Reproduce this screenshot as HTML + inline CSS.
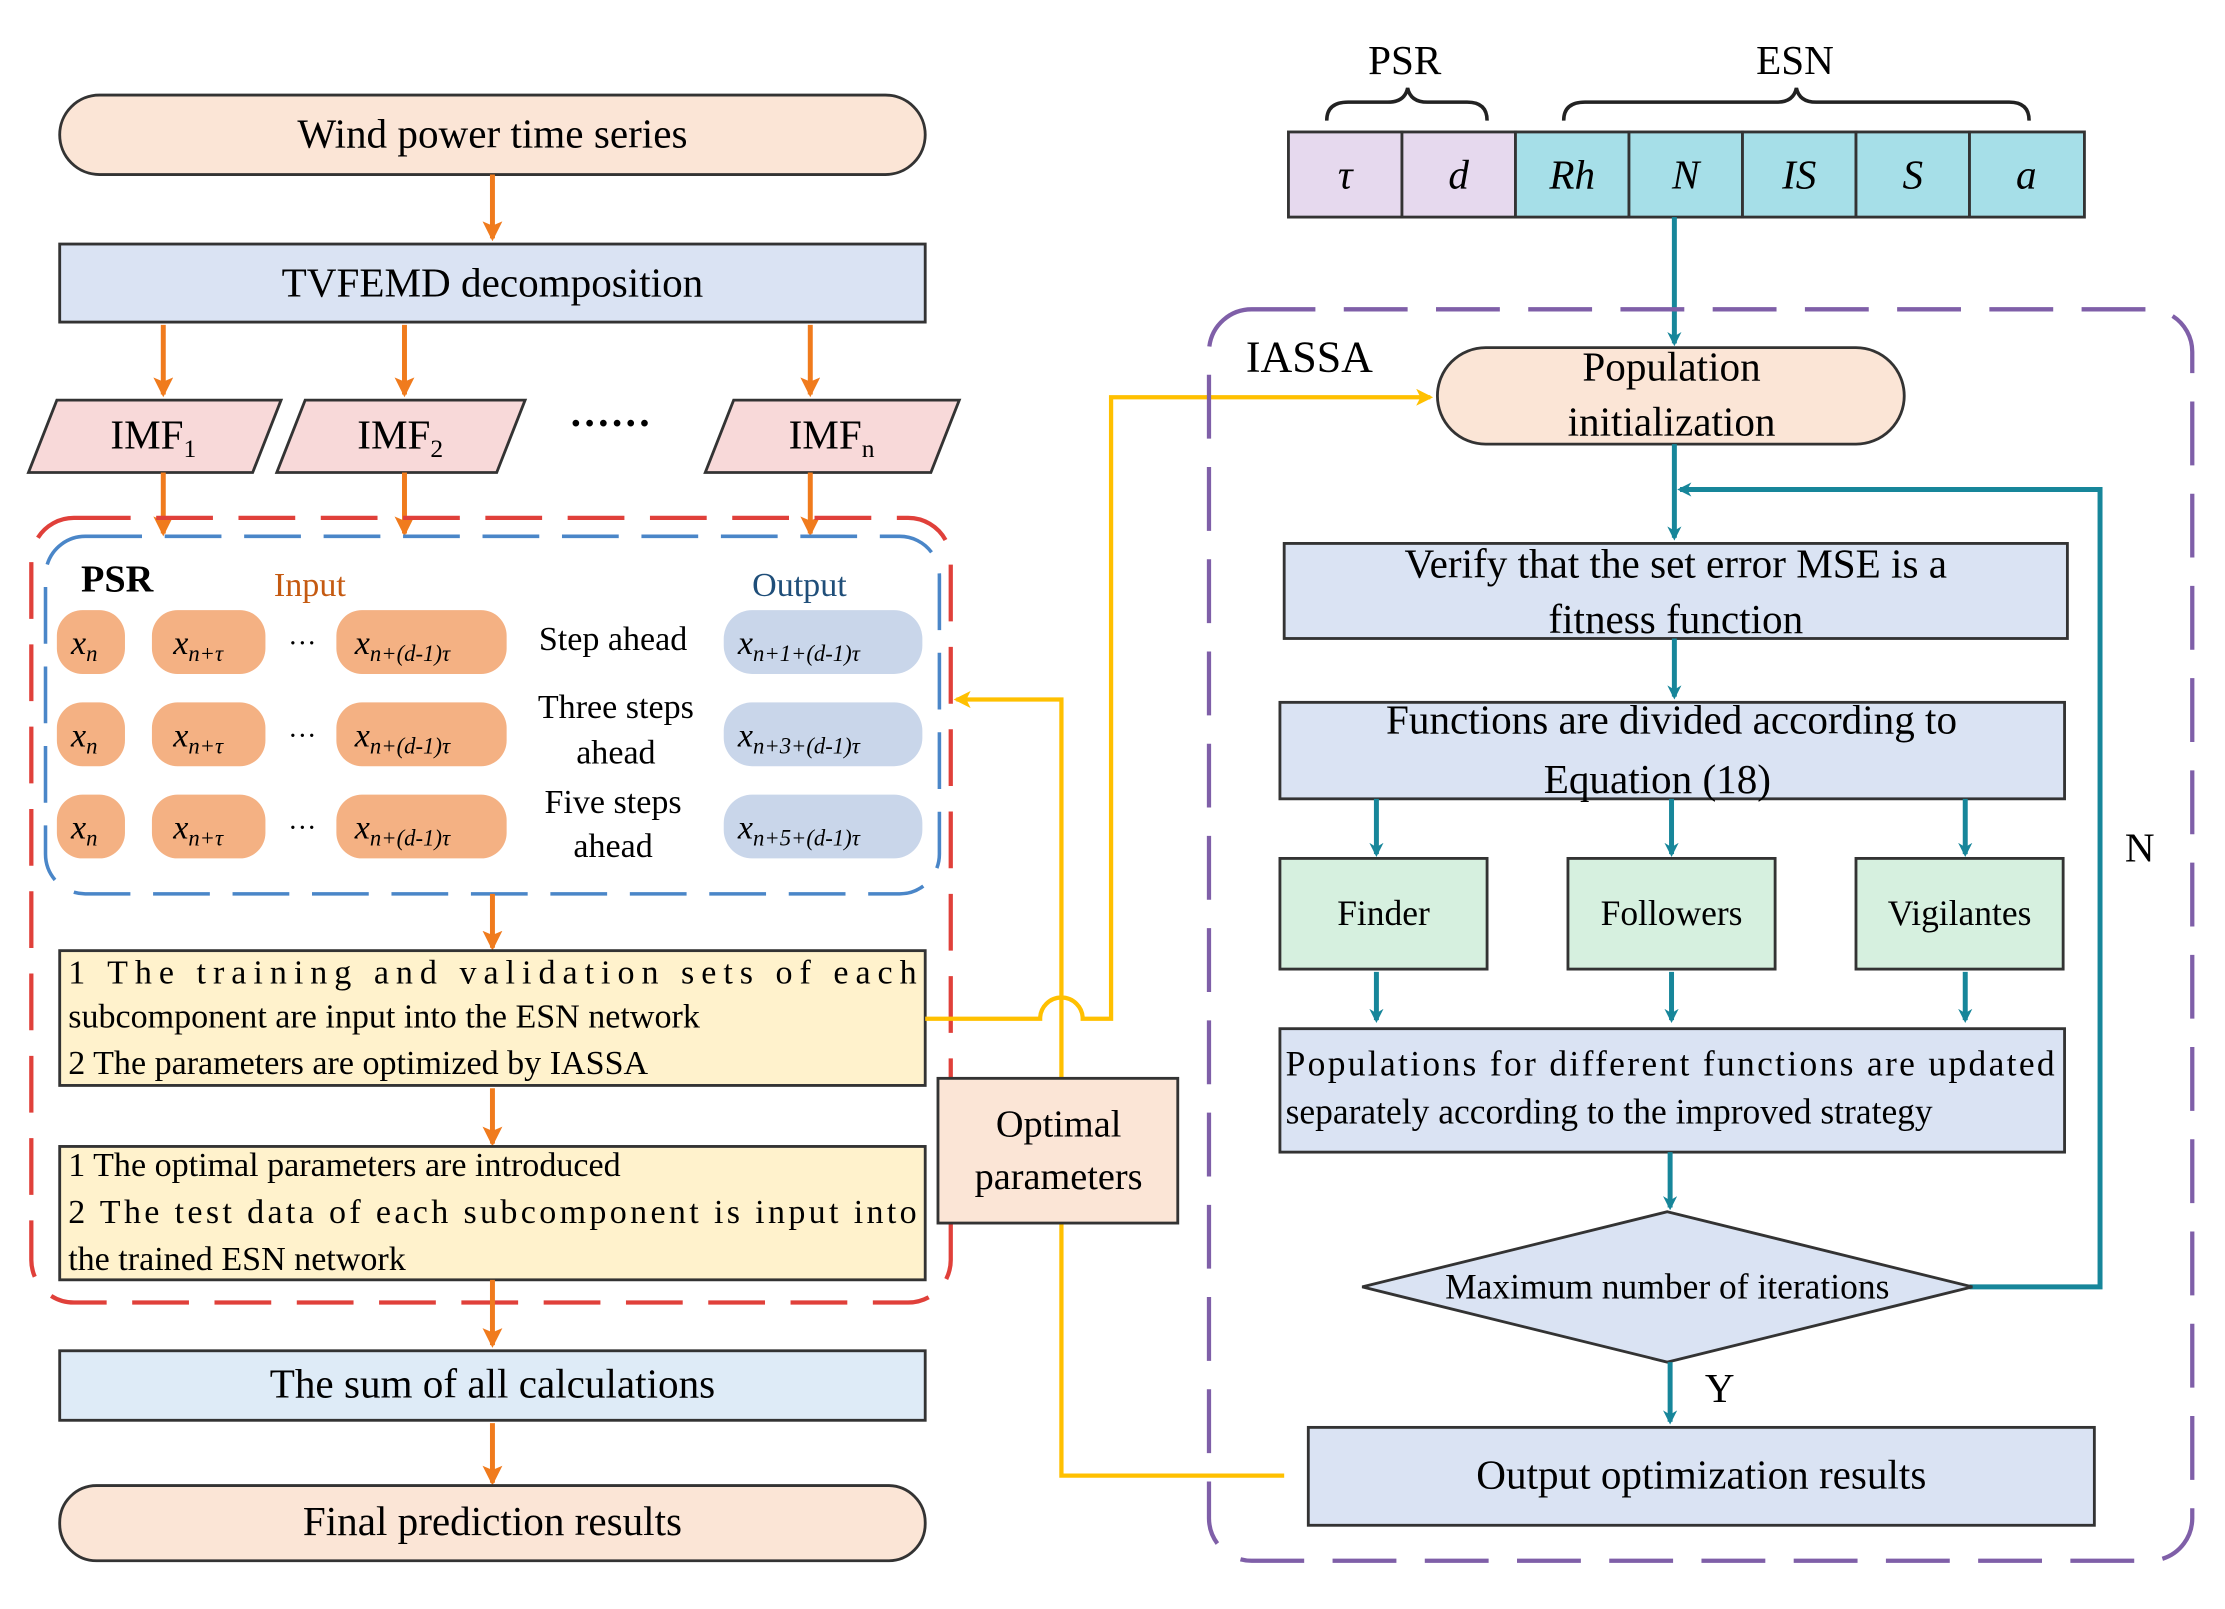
<!DOCTYPE html>
<html><head><meta charset="utf-8"><style>
html,body{margin:0;padding:0;background:#fff;}
svg{display:block;}
text{font-family:"Liberation Serif",serif;}
</style></head><body>
<svg width="2225" height="1609" viewBox="0 0 1568 1134" xmlns="http://www.w3.org/2000/svg">
<defs>
<marker id="ao" markerWidth="14" markerHeight="14" refX="12" refY="7" orient="auto" markerUnits="userSpaceOnUse" viewBox="0 0 14 14"><path d="M0,0 L14,7 L0,14 L3,7 Z" fill="#f07b1d"/></marker>
<marker id="at" markerWidth="10" markerHeight="10" refX="8" refY="5" orient="auto" markerUnits="userSpaceOnUse"><path d="M0,0 L10,5 L0,10 L3,5 Z" fill="#17869a"/></marker>
<marker id="ay" markerWidth="12" markerHeight="12" refX="10" refY="6" orient="auto" markerUnits="userSpaceOnUse"><path d="M0,0 L12,6 L0,12 L3,6 Z" fill="#ffc000"/></marker>
</defs>
<style>
.o{stroke:#f07b1d;stroke-width:3.5;fill:none;}
.t{stroke:#17869a;stroke-width:3.5;fill:none;}
.y{stroke:#ffc000;stroke-width:3;fill:none;}
.bx{stroke:#333;stroke-width:2;}
.big{font-size:29px;}
.mid{font-size:25px;}
</style>

<rect x="42" y="67" width="610" height="56" rx="28" fill="#fbe5d6" class="bx"/>
<text x="347" y="104" text-anchor="middle" class="big">Wind power time series</text>
<line x1="347" y1="123" x2="347" y2="168" class="o" marker-end="url(#ao)"/>
<rect x="42" y="172" width="610" height="55" fill="#dae3f3" class="bx"/>
<text x="347" y="209" text-anchor="middle" class="big">TVFEMD decomposition</text>
<line x1="115" y1="229" x2="115" y2="278" class="o" marker-end="url(#ao)"/>
<line x1="285" y1="229" x2="285" y2="278" class="o" marker-end="url(#ao)"/>
<line x1="571" y1="229" x2="571" y2="278" class="o" marker-end="url(#ao)"/>

<polygon points="40,282 198,282 178,333 20,333" fill="#f8d9d9" class="bx"/>
<text x="108" y="316" text-anchor="middle" class="big">IMF<tspan font-size="18" dy="6">1</tspan></text>
<polygon points="215,282 370,282 350,333 195,333" fill="#f8d9d9" class="bx"/>
<text x="282" y="316" text-anchor="middle" class="big">IMF<tspan font-size="18" dy="6">2</tspan></text>
<text x="430" y="308" text-anchor="middle" class="big" font-weight="bold">······</text>
<polygon points="517,282 676,282 656,333 497,333" fill="#f8d9d9" class="bx"/>
<text x="586" y="316" text-anchor="middle" class="big">IMF<tspan font-size="18" dy="6">n</tspan></text>
<line x1="115" y1="333" x2="115" y2="376" class="o" marker-end="url(#ao)"/>
<line x1="285" y1="333" x2="285" y2="376" class="o" marker-end="url(#ao)"/>
<line x1="571" y1="333" x2="571" y2="376" class="o" marker-end="url(#ao)"/>

<rect x="22" y="365" width="648" height="553" rx="30" fill="none" stroke="#e0403a" stroke-width="3" stroke-dasharray="40,18"/>
<rect x="32" y="378" width="630" height="252" rx="28" fill="none" stroke="#4a86c8" stroke-width="2.5" stroke-dasharray="40,16"/>
<text x="57" y="417" font-size="27" font-weight="bold">PSR</text>
<text x="193" y="420" font-size="24" fill="#c55a11">Input</text>
<text x="530" y="420" font-size="24" fill="#1f4e79">Output</text>

<g font-size="24" font-style="italic">
<g fill="#f4b183">
<rect x="40" y="430" width="48" height="45" rx="18"/><rect x="107" y="430" width="80" height="45" rx="18"/><rect x="237" y="430" width="120" height="45" rx="18"/>
<rect x="40" y="495" width="48" height="45" rx="18"/><rect x="107" y="495" width="80" height="45" rx="18"/><rect x="237" y="495" width="120" height="45" rx="18"/>
<rect x="40" y="560" width="48" height="45" rx="18"/><rect x="107" y="560" width="80" height="45" rx="18"/><rect x="237" y="560" width="120" height="45" rx="18"/>
</g>
<g fill="#c9d6ea">
<rect x="510" y="430" width="140" height="45" rx="20"/><rect x="510" y="495" width="140" height="45" rx="20"/><rect x="510" y="560" width="140" height="45" rx="20"/>
</g>
<text x="50" y="461">x<tspan font-size="16" dy="5">n</tspan></text>
<text x="122" y="461">x<tspan font-size="16" dy="5">n+τ</tspan></text>
<text x="250" y="461">x<tspan font-size="16" dy="5">n+(d-1)τ</tspan></text>
<text x="520" y="461">x<tspan font-size="16" dy="5">n+1+(d-1)τ</tspan></text>
<text x="50" y="526">x<tspan font-size="16" dy="5">n</tspan></text>
<text x="122" y="526">x<tspan font-size="16" dy="5">n+τ</tspan></text>
<text x="250" y="526">x<tspan font-size="16" dy="5">n+(d-1)τ</tspan></text>
<text x="520" y="526">x<tspan font-size="16" dy="5">n+3+(d-1)τ</tspan></text>
<text x="50" y="591">x<tspan font-size="16" dy="5">n</tspan></text>
<text x="122" y="591">x<tspan font-size="16" dy="5">n+τ</tspan></text>
<text x="250" y="591">x<tspan font-size="16" dy="5">n+(d-1)τ</tspan></text>
<text x="520" y="591">x<tspan font-size="16" dy="5">n+5+(d-1)τ</tspan></text>
</g>
<g font-size="20"><text x="203" y="460">···</text><text x="203" y="525">···</text><text x="203" y="590">···</text></g>
<g font-size="24" text-anchor="middle">
<text x="432" y="458">Step ahead</text>
<text x="434" y="506">Three steps</text><text x="434" y="538">ahead</text>
<text x="432" y="573">Five steps</text><text x="432" y="604">ahead</text>
</g>
<line x1="347" y1="630" x2="347" y2="668" class="o" marker-end="url(#ao)"/>

<rect x="42" y="670" width="610" height="95" fill="#fff2cc" class="bx"/>
<g font-size="24">
<text x="48" y="693" textLength="598" lengthAdjust="spacing">1 The training and validation sets of each</text>
<text x="48" y="724">subcomponent are input into the ESN network</text>
<text x="48" y="757">2   The parameters are optimized by IASSA</text>
</g>
<line x1="347" y1="767" x2="347" y2="806" class="o" marker-end="url(#ao)"/>
<rect x="42" y="808" width="610" height="94" fill="#fff2cc" class="bx"/>
<g font-size="24">
<text x="48" y="829">1   The optimal parameters are introduced</text>
<text x="48" y="862" textLength="598" lengthAdjust="spacing">2   The test data of each subcomponent is input into</text>
<text x="48" y="895">the trained ESN network</text>
</g>
<line x1="347" y1="902" x2="347" y2="948" class="o" marker-end="url(#ao)"/>
<rect x="42" y="952" width="610" height="49" fill="#deebf7" class="bx"/>
<text x="347" y="985" text-anchor="middle" class="big">The sum of all calculations</text>
<line x1="347" y1="1003" x2="347" y2="1045" class="o" marker-end="url(#ao)"/>
<rect x="42" y="1047" width="610" height="53" rx="26" fill="#fbe5d6" class="bx"/>
<text x="347" y="1082" text-anchor="middle" class="big">Final prediction results</text>

<path d="M652,718 H733 A15,15 0 0 1 763,718 H783 V280 H1008" class="y" marker-end="url(#ay)"/>
<path d="M748,760 V493 H674" class="y" marker-end="url(#ay)"/>
<path d="M748,862 V1040 H905" class="y"/>
<rect x="661" y="760" width="169" height="102" fill="#fbe5d6" class="bx"/>
<text x="746" y="801" text-anchor="middle" font-size="27">Optimal</text>
<text x="746" y="838" text-anchor="middle" font-size="27">parameters</text>

<text x="990" y="52" text-anchor="middle" class="big">PSR</text>
<text x="1265" y="52" text-anchor="middle" class="big">ESN</text>
<path d="M935,85 Q935,72 950,72 H978 Q990,72 992,62 Q994,72 1006,72 H1034 Q1048,72 1048,85" fill="none" stroke="#222" stroke-width="2.5"/>
<path d="M1102,85 Q1102,72 1117,72 H1252 Q1264,72 1266,62 Q1268,72 1280,72 H1416 Q1430,72 1430,85" fill="none" stroke="#222" stroke-width="2.5"/>
<g stroke="#333" stroke-width="2">
<rect x="908" y="93" width="80" height="60" fill="#e6d9ee"/><rect x="988" y="93" width="80" height="60" fill="#e6d9ee"/>
<rect x="1068" y="93" width="80" height="60" fill="#a6dfe8"/><rect x="1148" y="93" width="80" height="60" fill="#a6dfe8"/>
<rect x="1228" y="93" width="80" height="60" fill="#a6dfe8"/><rect x="1308" y="93" width="80" height="60" fill="#a6dfe8"/>
<rect x="1388" y="93" width="81" height="60" fill="#a6dfe8"/>
</g>
<g font-size="29" font-style="italic" text-anchor="middle">
<text x="948" y="133">τ</text><text x="1028" y="133">d</text><text x="1108" y="133">Rh</text><text x="1188" y="133">N</text><text x="1268" y="133">IS</text><text x="1348" y="133">S</text><text x="1428" y="133">a</text>
</g>
<line x1="1180" y1="153" x2="1180" y2="242" class="t" marker-end="url(#at)"/>

<rect x="852" y="218" width="693" height="882" rx="30" fill="none" stroke="#7f5fa8" stroke-width="3" stroke-dasharray="45,20"/>
<text x="878" y="262" font-size="31">IASSA</text>

<rect x="1013" y="245" width="329" height="68" rx="34" fill="#fbe5d6" class="bx"/>
<text x="1178" y="268" text-anchor="middle" class="big">Population</text>
<text x="1178" y="307" text-anchor="middle" class="big">initialization</text>
<line x1="1180" y1="313" x2="1180" y2="379" class="t" marker-end="url(#at)"/>
<path d="M1388,907 H1480 V345 H1184" class="t" marker-end="url(#at)"/>
<text x="1508" y="607" text-anchor="middle" class="big">N</text>

<rect x="905" y="383" width="552" height="67" fill="#dae3f3" class="bx"/>
<text x="1181" y="407" text-anchor="middle" class="big">Verify that the set error MSE is a</text>
<text x="1181" y="446" text-anchor="middle" class="big">fitness function</text>
<line x1="1180" y1="450" x2="1180" y2="491" class="t" marker-end="url(#at)"/>
<rect x="902" y="495" width="553" height="68" fill="#dae3f3" class="bx"/>
<text x="1178" y="517" text-anchor="middle" class="big">Functions are divided according to</text>
<text x="1168" y="559" text-anchor="middle" class="big">Equation (18)</text>
<line x1="970" y1="563" x2="970" y2="602" class="t" marker-end="url(#at)"/>
<line x1="1178" y1="563" x2="1178" y2="602" class="t" marker-end="url(#at)"/>
<line x1="1385" y1="563" x2="1385" y2="602" class="t" marker-end="url(#at)"/>
<g fill="#d6f0df" class="bx">
<rect x="902" y="605" width="146" height="78"/><rect x="1105" y="605" width="146" height="78"/><rect x="1308" y="605" width="146" height="78"/>
</g>
<g font-size="25" text-anchor="middle">
<text x="975" y="652">Finder</text><text x="1178" y="652">Followers</text><text x="1381" y="652">Vigilantes</text>
</g>
<line x1="970" y1="685" x2="970" y2="719" class="t" marker-end="url(#at)"/>
<line x1="1178" y1="685" x2="1178" y2="719" class="t" marker-end="url(#at)"/>
<line x1="1385" y1="685" x2="1385" y2="719" class="t" marker-end="url(#at)"/>
<rect x="902" y="725" width="553" height="87" fill="#dae3f3" class="bx"/>
<g font-size="25">
<text x="906" y="758" textLength="542" lengthAdjust="spacing">Populations for different functions are updated</text>
<text x="906" y="792">separately according to the improved strategy</text>
</g>
<line x1="1177" y1="812" x2="1177" y2="851" class="t" marker-end="url(#at)"/>
<polygon points="1175,854 1390,907 1175,960 960,907" fill="#dae3f3" class="bx"/>
<text x="1175" y="915" text-anchor="middle" font-size="25">Maximum number of iterations</text>
<line x1="1177" y1="960" x2="1177" y2="1002" class="t" marker-end="url(#at)"/>
<text x="1212" y="988" text-anchor="middle" class="big">Y</text>
<rect x="922" y="1006" width="554" height="69" fill="#dae3f3" class="bx"/>
<text x="1199" y="1049" text-anchor="middle" class="big">Output optimization results</text>
</svg>
</body></html>
